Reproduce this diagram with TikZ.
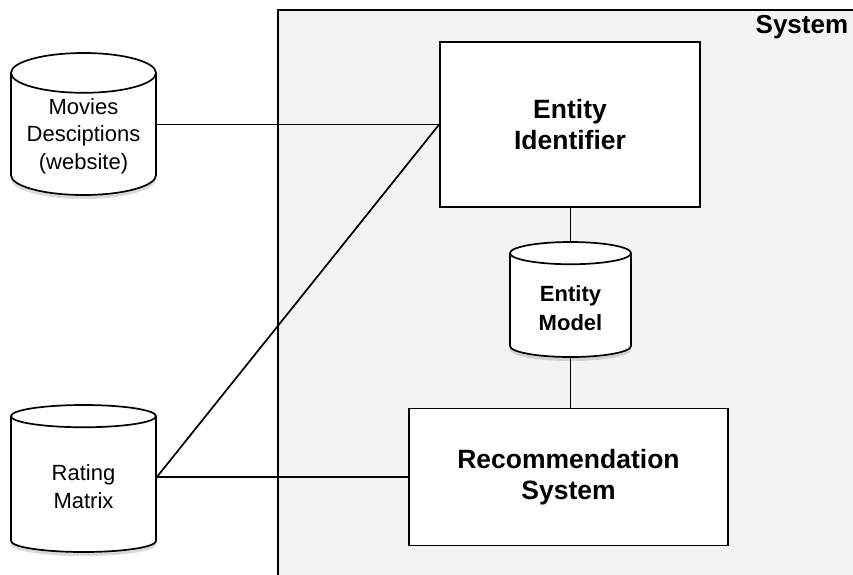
\documentclass[tikz,border=0pt]{standalone}
\usepackage{fontspec}
\setmainfont{Liberation Sans}
\usetikzlibrary{shapes.geometric,shadows}
\definecolor{sysgray}{RGB}{243,243,243}
% cylinder text, lowered below the top ellipse
\newcommand\storetext[2]{\raisebox{-#1}[0pt][0pt]{\begin{tabular}{@{}c@{}}#2\end{tabular}}}
\begin{document}
\begin{tikzpicture}[x=1pt,y=-1pt,line width=1.7pt,
        store/.style={cylinder,shape border rotate=90,aspect=0.35,draw,fill=white,
            anchor=shape center,inner sep=0pt,font=\fontsize{22}{27.5}\selectfont,
            drop shadow={shadow xshift=0pt,shadow yshift=-4pt,opacity=0.3}},
        block/.style={draw,fill=white,align=center,inner sep=0pt,
            font=\bfseries\fontsize{26.5}{31.5}\selectfont}]
        \useasboundingbox (0,0) rectangle (853,574);

        % system boundary
        \draw[fill=sysgray] (278,10) rectangle (890,600);
        \node[anchor=base east,inner sep=0pt,font=\bfseries\fontsize{26}{31}\selectfont] (syslabel) at (849,33) {System};

        % data sources
        \node[store,minimum width=145pt,minimum height=142pt] (movies) at (83.5,124)
            {\storetext{7pt}{Movies\\Desciptions\\(website)}};
        \node[store,minimum width=145pt,minimum height=147pt] (rating) at (83.5,478.5)
            {\storetext{9.5pt}{Rating\\Matrix}};

        % inside the system
        \node[block,minimum width=260pt,minimum height=165pt] (ident) at (570,124.5) {Entity\\Identifier};
        \node[store,minimum width=121pt,minimum height=115pt,font=\bfseries\fontsize{22}{29}\selectfont] (model) at (570.5,299.5)
            {\storetext{9.7pt}{Entity\\Model}};
        \node[block,minimum width=319pt,minimum height=137pt] (recsys) at (568.5,477) {Recommendation\\System};

        \draw (movies.east |- ident.west) -- (ident.west);
        \draw (rating.east |- recsys.west) -- (ident.west);
        \draw (rating.east |- recsys.west) -- (recsys.west);
        \draw (ident.south -| model.north) -- (model.north);
        \draw (model.south) -- (model.south |- recsys.north);
    \end{tikzpicture}
\end{document}
